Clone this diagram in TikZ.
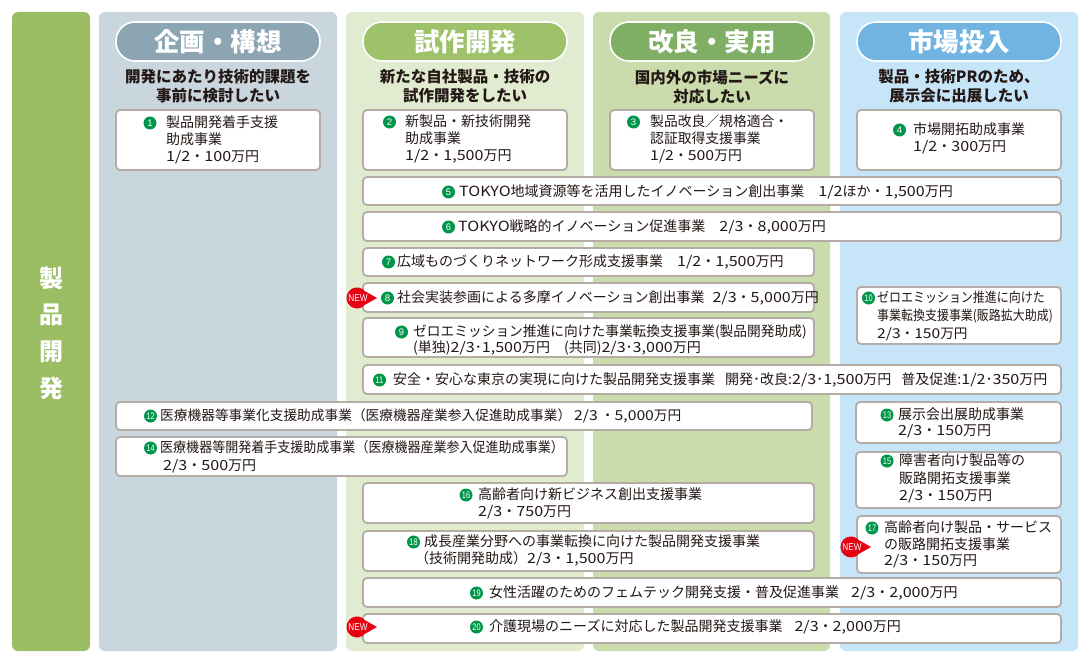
\documentclass[tikz,border=0pt]{standalone}
\usepackage{fontspec}
\usepackage{graphicx}
\setmainfont{Noto Sans CJK JP}
\newfontfamily\latinfont{Liberation Sans}
\usetikzlibrary{fit}
\definecolor{barGreen}{RGB}{155,190,101}
\definecolor{bgA}{RGB}{202,214,222}
\definecolor{bgB}{RGB}{224,235,208}
\definecolor{bgC}{RGB}{202,219,172}
\definecolor{bgD}{RGB}{199,229,248}
\definecolor{pillA}{RGB}{139,165,178}
\definecolor{pillB}{RGB}{158,194,106}
\definecolor{pillC}{RGB}{127,175,100}
\definecolor{pillD}{RGB}{113,180,226}
\definecolor{boxLine}{RGB}{180,172,165}
\definecolor{numGreen}{RGB}{0,150,74}
\definecolor{inkDark}{RGB}{35,24,21}
\definecolor{newRed}{RGB}{229,0,18}
\tikzset{
 colbg/.style={draw=none, rounded corners=6pt, inner sep=0pt},
 pill/.style={rounded corners=19pt, draw=white, line width=1.6pt, inner sep=0pt},
 headtxt/.style={text=white, inner sep=0pt, font=\bfseries\fontsize{25.5}{26}\selectfont},
 subtxt/.style={text=inkDark, align=center, inner sep=0pt, font=\bfseries\fontsize{15.5}{19}\selectfont},
 prog/.style={draw=boxLine, fill=white, line width=1.8pt, rounded corners=4pt, inner sep=0pt},
 ptxt/.style={text=inkDark, align=left, anchor=west, inner sep=0pt, font=\fontsize{14}{17}\selectfont},
 numc/.style={circle, fill=numGreen, text=white, inner sep=0pt, minimum size=13pt, font=\latinfont\fontsize{9.5}{9.5}\selectfont},
 newtxt/.style={text=white, inner sep=0pt, font=\latinfont\fontsize{10}{10}\selectfont},
 bartxt/.style={text=white, align=center, inner sep=0pt, font=\bfseries\fontsize{24}{36.7}\selectfont},
}
\newcommand\twod[1]{\scalebox{0.78}[1]{#1}}
\newcommand\amt[1]{\scalebox{1.15}[1]{#1}}
\newcommand\cond[1]{\scalebox{0.88}[1]{#1}}
\begin{document}
\begin{tikzpicture}[x=1pt,y=-1pt]
\useasboundingbox (0,0) rectangle (1090,658);
\fill[white] (0,0) rectangle (1090,658);
% columns
\node[colbg, fill=barGreen, fit={(12,12) (90,651)}] (bar) {};
\node[colbg, fill=bgA, fit={(99,12) (337,651)}] (colA) {};
\node[colbg, fill=bgB, fit={(346,12) (584,651)}] (colB) {};
\node[colbg, fill=bgC, fit={(593,12) (830,651)}] (colC) {};
\node[colbg, fill=bgD, fit={(840,12) (1078,651)}] (colD) {};
\node[bartxt] (barT) at (51,333) {製\\品\\開\\発};
% pills
\node[pill, fill=pillA, fit={(116,22) (320,61)}] (pA) {};
\node[pill, fill=pillB, fit={(363,22) (567,61)}] (pB) {};
\node[pill, fill=pillC, fit={(610,22) (814,61)}] (pC) {};
\node[pill, fill=pillD, fit={(857,22) (1061,61)}] (pD) {};
\node[headtxt] (hA) at (pA.center) {企画・構想};
\node[headtxt] (hB) at (pB.center) {試作開発};
\node[headtxt] (hC) at (pC.center) {改良・実用};
\node[headtxt] (hD) at (pD.center) {市場投入};
\node[subtxt] (sA) at (218,86.5) {開発にあたり技術的課題を\\事前に検討したい};
\node[subtxt] (sB) at (465,86.5) {新たな自社製品・技術の\\試作開発をしたい};
\node[subtxt] (sC) at (712,86.5) {国内外の市場ニーズに\\対応したい};
\node[subtxt] (sD) at (959,86.5) {製品・技術PRのため、\\展示会に出展したい};
% boxes
\node[prog, fit={(116,110) (320,170)}] (b1) {};
\node[prog, fit={(363,110) (567,170)}] (b2) {};
\node[prog, fit={(610,110) (814,170)}] (b3) {};
\node[prog, fit={(857,110) (1061,170)}] (b4) {};
\node[prog, fit={(363,177) (1061,205)}] (b5) {};
\node[prog, fit={(363,212) (1061,241)}] (b6) {};
\node[prog, fit={(363,248) (814,276)}] (b7) {};
\node[prog, fit={(363,283) (814,312)}] (b8) {};
\node[prog, fit={(363,318) (814,357)}] (b9) {};
\node[prog, fit={(857,287) (1061,344)}] (b10) {};
\node[prog, fit={(363,365) (1061,394)}] (b11) {};
\node[prog, fit={(116,402) (812,430)}] (b12) {};
\node[prog, fit={(856,402) (1061,443)}] (b13) {};
\node[prog, fit={(116,437) (567,476)}] (b14) {};
\node[prog, fit={(856,452) (1061,508)}] (b15) {};
\node[prog, fit={(363,483) (814,523)}] (b16) {};
\node[prog, fit={(857,516) (1061,573)}] (b17) {};
\node[prog, fit={(363,531) (814,571)}] (b18) {};
\node[prog, fit={(363,578) (1061,607)}] (b19) {};
\node[prog, fit={(363,614) (1061,643)}] (b20) {};
% texts
\node[ptxt] (t1) at (166,140) {製品開発着手支援\\助成事業\\\amt{1/2}・\amt{100}万円};
\node[ptxt] (t2) at (405,139) {新製品・新技術開発\\助成事業\\\amt{1/2}・\amt{1,500}万円};
\node[ptxt, font=\fontsize{13.8}{17}\selectfont] (t3) at (650,139) {製品改良／規格適合・\\認証取得支援事業\\\amt{1/2}・\amt{500}万円};
\node[ptxt] (t4) at (913,138.5) {市場開拓助成事業\\\amt{1/2}・\amt{300}万円};
\node[ptxt] (t5) at (459,192) {\amt{TOKYO}地域資源等を活用したイノベーション創出事業\hspace{14pt}\amt{1/2}ほか・\amt{1,500}万円};
\node[ptxt] (t6) at (458,227) {\amt{TOKYO}戦略的イノベーション促進事業\hspace{14pt}\amt{2/3}・\amt{8,000}万円};
\node[ptxt] (t7) at (397,262) {広域ものづくりネットワーク形成支援事業\hspace{14pt}\amt{1/2}・\amt{1,500}万円};
\node[ptxt] (t8) at (397,298) {社会実装参画による多摩イノベーション創出事業\hspace{8pt}\amt{2/3}・\amt{5,000}万円};
\node[ptxt, font=\fontsize{14}{16}\selectfont] (t9) at (413,340) {\scalebox{0.98}[1]{ゼロエミッション推進に向けた事業転換支援事業(製品開発助成)}\\(単独)\amt{2/3}･\amt{1,500}万円\hspace{14pt}(共同)\amt{2/3}･\amt{3,000}万円};
\node[ptxt, font=\fontsize{13.6}{18}\selectfont] (t10) at (877,316) {\cond{ゼロエミッション推進に向けた}\\\cond{事業転換支援事業(販路拡大助成)}\\\amt{2/3}・\amt{150}万円};
\node[ptxt] (t11) at (393,380) {安全・安心な東京の実現に向けた製品開発支援事業\hspace{10pt}開発･改良:\amt{2/3}･\amt{1,500}万円\hspace{10pt}普及促進:\amt{1/2}･\amt{350}万円};
\node[ptxt, font=\fontsize{13.7}{17}\selectfont] (t12) at (160,416) {医療機器等事業化支援助成事業（医療機器産業参入促進助成事業）\hspace{3pt}\amt{2/3} ・\amt{5,000}万円};
\node[ptxt, font=\fontsize{14}{16}\selectfont] (t13) at (898,423) {展示会出展助成事業\\\amt{2/3}・\amt{150}万円};
\node[ptxt, font=\fontsize{14}{18}\selectfont] (t14) at (160,457) {\scalebox{0.93}[1]{医療機器等開発着手支援助成事業（医療機器産業参入促進助成事業）}\\\hspace*{3pt}\amt{2/3}・\amt{500}万円};
\node[ptxt, font=\fontsize{14}{17.5}\selectfont] (t15) at (899,478.5) {障害者向け製品等の\\販路開拓支援事業\\\amt{2/3}・\amt{150}万円};
\node[ptxt] (t16) at (478,503.5) {高齢者向け新ビジネス創出支援事業\\\amt{2/3}・\amt{750}万円};
\node[ptxt, font=\fontsize{14}{16.5}\selectfont] (t17) at (884,544.5) {高齢者向け製品・サービス\\の販路開拓支援事業\\\amt{2/3}・\amt{150}万円};
\node[ptxt] (t18) at (424,550.5) {成長産業分野への事業転換に向けた製品開発支援事業\\\hspace*{-9pt}（技術開発助成）\amt{2/3}・\amt{1,500}万円};
\node[ptxt] (t19) at (489,593) {女性活躍のためのフェムテック開発支援・普及促進事業\hspace{12pt}\amt{2/3}・\amt{2,000}万円};
\node[ptxt] (t20) at (489,627) {介護現場のニーズに対応した製品開発支援事業\hspace{12pt}\amt{2/3}・\amt{2,000}万円};
% number circles
\node[numc] (n1) at (150,123) {1};
\node[numc] (n2) at (389.5,122) {2};
\node[numc] (n3) at (633.5,122) {3};
\node[numc] (n4) at (899.5,130) {4};
\node[numc] (n5) at (448.5,192) {5};
\node[numc] (n6) at (448.5,227) {6};
\node[numc] (n7) at (388.5,262) {7};
\node[numc] (n8) at (387.5,298) {8};
\node[numc] (n9) at (401.5,332) {9};
\node[numc] (n10) at (868.5,298) {\twod{10}};
\node[numc] (n11) at (379.5,380) {\twod{11}};
\node[numc] (n12) at (150.5,416) {\twod{12}};
\node[numc] (n13) at (887,415) {\twod{13}};
\node[numc] (n14) at (150.5,448) {\twod{14}};
\node[numc] (n15) at (887,461) {\twod{15}};
\node[numc] (n16) at (466,495) {\twod{16}};
\node[numc] (n17) at (872,528) {\twod{17}};
\node[numc] (n18) at (413.5,542) {\twod{18}};
\node[numc] (n19) at (476.5,593) {\twod{19}};
\node[numc] (n20) at (476.5,627) {\twod{20}};
% NEW badges
\fill[newRed] (377,298) -- ([shift={(40:10.5)}]357,298) arc[start angle=40,end angle=320,radius=10.5] -- cycle;
\node[newtxt] (new8) at (358,298.5) {\scalebox{0.82}[1]{NEW}};
\fill[newRed] (377,627) -- ([shift={(40:10.5)}]357,627) arc[start angle=40,end angle=320,radius=10.5] -- cycle;
\node[newtxt] (new20) at (358,627.5) {\scalebox{0.82}[1]{NEW}};
\fill[newRed] (871,547) -- ([shift={(40:10.5)}]851,547) arc[start angle=40,end angle=320,radius=10.5] -- cycle;
\node[newtxt] (new17) at (852,547.5) {\scalebox{0.82}[1]{NEW}};
\end{tikzpicture}
\end{document}
